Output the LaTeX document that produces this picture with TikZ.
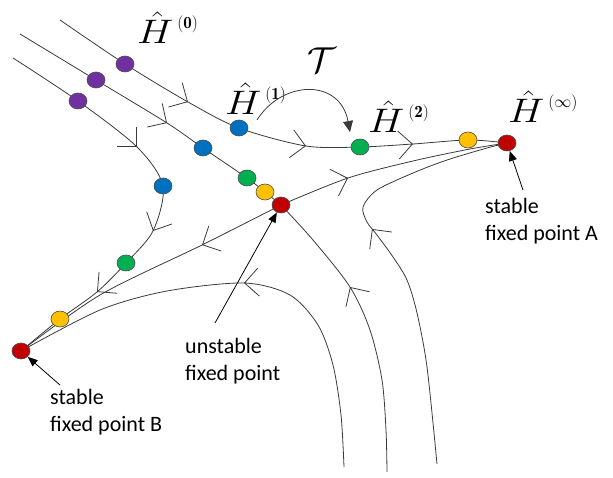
\documentclass[tikz,border=0pt]{standalone}
\usepackage{fix-cm}
\usepackage{fontspec}
\newfontfamily\notefont{Carlito}
\usetikzlibrary{arrows.meta,shapes.geometric,backgrounds}

\definecolor{dotpurple}{HTML}{7030A0}
\definecolor{dotblue}{HTML}{0070C0}
\definecolor{dotgreen}{HTML}{00B050}
\definecolor{dotyellow}{HTML}{FFC000}
\definecolor{dotred}{HTML}{C00000}
\definecolor{flowgray}{HTML}{3A3A3A}

% Hamiltonian label: hat H with a small raised index
\newcommand\Hlab[1]{{\fontsize{34}{34}\selectfont\scalebox{1.2}[1]{$\hat{H}$}}\kern4pt\raisebox{15pt}{\fontsize{17}{17}\selectfont$(#1)$}}
% open chevron on a flow line: apex and a short step backwards along the line
\newcommand\flowmark[2]{\draw[flow,-flowtip] (#1) ++(#2) -- (#1);}

\tikzset{
  flowtip/.tip={Straight Barb[length=14pt,width=28pt]},
  flow/.style={draw=flowgray, line width=0.8pt},
  dot/.style={ellipse, draw=black!70, line width=0.6pt, minimum width=18pt, minimum height=16pt, inner sep=0pt},
  note/.style={font=\notefont\fontsize{22}{27}\selectfont, align=left, inner sep=0pt, anchor=north west},
  pointer/.style={draw=black, line width=0.8pt, -{Triangle[length=10pt,width=8pt]}},
  hlab/.style={inner sep=0pt, anchor=base west},
}

\begin{document}
\begin{tikzpicture}[x=1pt,y=-1pt]
\useasboundingbox (0,0) rectangle (613,478);

% fixed points
\node[dot, fill=dotred] (A) at (507,143) {};
\node[dot, fill=dotred] (U) at (281,205) {};
\node[dot, fill=dotred] (B) at (21,351) {};

% iterates along the three flow lines
\node[dot, fill=dotpurple] (p1) at (125,64) {};
\node[dot, fill=dotblue]   (b1) at (239,128) {};
\node[dot, fill=dotgreen]  (g1) at (360,147) {};
\node[dot, fill=dotyellow] (y1) at (468,140) {};

\node[dot, fill=dotpurple] (p2) at (96,80) {};
\node[dot, fill=dotblue]   (b2) at (203,148) {};
\node[dot, fill=dotgreen]  (g2) at (247,178) {};
\node[dot, fill=dotyellow] (y2) at (265,192) {};

\node[dot, fill=dotpurple] (p3) at (78,101) {};
\node[dot, fill=dotblue]   (b3) at (163,186) {};
\node[dot, fill=dotgreen]  (g3) at (126,263) {};
\node[dot, fill=dotyellow] (y3) at (60,319) {};

% free ends of the flow lines
\coordinate (s1) at (60,20);
\coordinate (s2) at (20,34);
\coordinate (s3) at (13,58);
\coordinate (e1) at (344,467);
\coordinate (e2) at (387,472);
\coordinate (e3) at (437,464);

% chevron positions
\coordinate (m1) at (188,102);
\coordinate (m2) at (306,146);
\coordinate (m3) at (413,144);
\coordinate (m4) at (167,123);
\coordinate (m5) at (137,147);
\coordinate (m6) at (153,231);
\coordinate (m7) at (97,292);
\coordinate (m8) at (348,178);
\coordinate (m9) at (202,245);
\coordinate (m10) at (350,287);
\coordinate (m11) at (244,283);
\coordinate (m12) at (372,229);

\begin{pgfonlayer}{background}
  % upper flow line into A
  \draw[flow] plot[smooth, tension=0.5] coordinates
    {(s1) (p1.center) (m1) (b1.center) (m2) (g1.center) (m3) (y1.center) (A.center)};
  % middle flow line into U
  \draw[flow] plot[smooth, tension=0.5] coordinates
    {(s2) (p2.center) (m4) (b2.center) (g2.center) (y2.center) (U.center)};
  % lower flow line bending into B
  \draw[flow] plot[smooth, tension=0.5] coordinates
    {(s3) (p3.center) (m5) (b3.center) (m6) (g3.center) (m7) (y3.center) (B.center)};
  % unstable directions of U
  \draw[flow] plot[smooth, tension=0.5] coordinates
    {(U.center) (m8) (413,161) (470,149) (A.center)};
  \draw[flow] plot[smooth, tension=0.5] coordinates
    {(U.center) (m9) (100,295) (B.center)};
  % stable direction of U from below
  \draw[flow] plot[smooth, tension=0.5] coordinates
    {(e2) (386,430) (382,380) (370,330) (m10) (313,240) (U.center)};
  % lower curve into B
  \draw[flow] plot[smooth, tension=0.5] coordinates
    {(e1) (341,415) (333,365) (318,325) (290,295) (m11) (167,291) (100,310) (B.center)};
  % right curve into A
  \draw[flow] plot[smooth, tension=0.5] coordinates
    {(e3) (427,367) (417,313) (407,280) (393,257) (377,235) (367,222) (363,207) (377,190) (413,173) (447,160) (487,148) (A.center)};

  % flow direction chevrons
  \flowmark{m1}{-1.74,-0.98}
  \flowmark{m2}{-1.98,-0.31}
  \flowmark{m3}{-2,0.13}
  \flowmark{m4}{-1.69,-1.07}
  \flowmark{m5}{-1.41,-1.41}
  \flowmark{m6}{0.87,-1.8}
  \flowmark{m7}{1.52,-1.29}
  \flowmark{m8}{-1.9,0.63}
  \flowmark{m9}{1.79,-0.89}
  \flowmark{m10}{1.07,1.69}
  \flowmark{m11}{2,-0.12}
  \flowmark{m12}{1.22,1.59}
\end{pgfonlayer}

% labels of the iterates
\node[hlab] (h0) at (137,44) {\Hlab{\mathbf{0}}};
\node[hlab] (h1) at (225,115) {\Hlab{\mathbf{1}}};
\node[hlab] (h2) at (368,133) {\Hlab{\mathbf{2}}};
\node[hlab] (hinf) at (508,123) {\Hlab{\infty}};

% the map
\node (mapT) at (322,60) {\fontsize{36}{36}\selectfont$\mathcal{T}$};
\coordinate (ts) at (257,120);
\coordinate (te) at (350,132);
\draw[draw=flowgray, line width=0.8pt, -{Triangle[length=11pt,width=10pt]}]
  (ts) .. controls (282,80) and (340,78) .. (te);

% annotations
\node[note] (nA) at (485,198) {stable\\fixed point A};
\node[note] (nU) at (185,338) {unstable\\fixed point};
\node[note] (nB) at (50,389) {stable\\fixed point B};
\coordinate (tA) at (523,190);
\coordinate (tU) at (215,323);
\coordinate (tB) at (60,385);
\draw[pointer] (tA) -- (A);
\draw[pointer] (tU) -- (U);
\draw[pointer] (tB) -- (B);
\end{tikzpicture}
\end{document}
